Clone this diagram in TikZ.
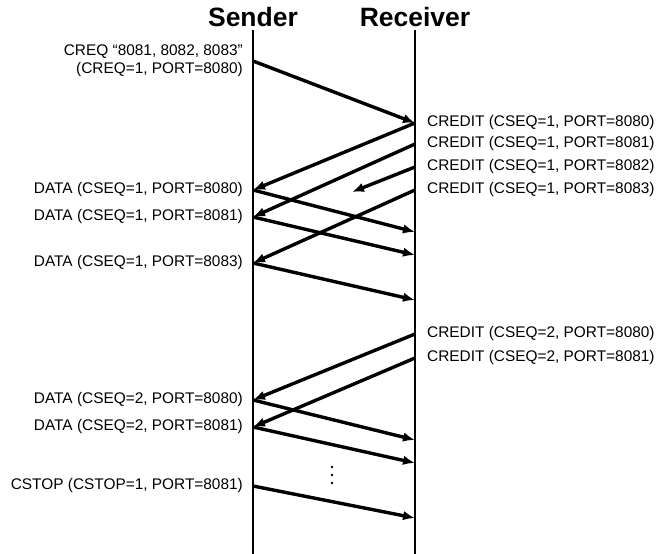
\documentclass[tikz,border=0pt]{standalone}
\usepackage{fontspec}
\setmainfont{Liberation Sans}
\usetikzlibrary{arrows.meta,positioning}

\tikzset{
  life/.style={line width=2bp},
  msg/.style={line width=3.4bp, -{Latex[length=12bp,width=9.5bp]}},
  lbl/.style={inner sep=0pt, font=\fontsize{15.4bp}{18bp}\selectfont},
  ttl/.style={inner sep=0pt, anchor=base, font=\fontsize{26.5bp}{30bp}\selectfont\bfseries}
}

\begin{document}
\begin{tikzpicture}[x=1bp, y=-1bp]
  \useasboundingbox (0,0) rectangle (658,554);
  % Lifelines
  \node[ttl] (sender) at (253,27) {Sender};
  \node[ttl] (receiver) at (415,27) {Receiver};
  \coordinate (stop) at (253,30);  \coordinate (sbot) at (253,554);
  \coordinate (rtop) at (415,30);  \coordinate (rbot) at (415,554);
  \draw[life] (stop) -- (sbot);
  \draw[life] (rtop) -- (rbot);

  % Points on the sender side
  \coordinate (s0) at (253,61);
  \coordinate (s1) at (253,190);
  \coordinate (s2) at (253,217);
  \coordinate (s3) at (253,263);
  \coordinate (s4) at (253,400);
  \coordinate (s5) at (253,427);
  \coordinate (s6) at (253,486);
  % Points on the receiver side
  \coordinate (r0) at (415,123);
  \coordinate (r1) at (415,144);
  \coordinate (r2) at (415,167);
  \coordinate (r3) at (415,190);
  \coordinate (d1) at (415,232);
  \coordinate (d2) at (415,255);
  \coordinate (d3) at (415,300);
  \coordinate (r4) at (415,334);
  \coordinate (r5) at (415,358);
  \coordinate (d4) at (415,440);
  \coordinate (d5) at (415,463);
  \coordinate (d6) at (415,518);
  \coordinate (lost) at (352,192);

  % Request
  \draw[msg] (s0) -- (r0);
  \node[lbl, align=right, left=10bp of s0] (creq) {CREQ “8081, 8082, 8083”\\(CREQ=1, PORT=8080)};

  % First credits
  \draw[msg] (r0) -- (s1);
  \draw[msg] (r1) -- (s2);
  \draw[msg] (r2) -- (lost);
  \draw[msg] (r3) -- (s3);
  \node[lbl, right=12bp of r0] (c10) {CREDIT (CSEQ=1, PORT=8080)};
  \node[lbl, right=12bp of r1] (c11) {CREDIT (CSEQ=1, PORT=8081)};
  \node[lbl, right=12bp of r2] (c12) {CREDIT (CSEQ=1, PORT=8082)};
  \node[lbl, right=12bp of r3] (c13) {CREDIT (CSEQ=1, PORT=8083)};

  % First data
  \draw[msg] (s1) -- (d1);
  \draw[msg] (s2) -- (d2);
  \draw[msg] (s3) -- (d3);
  \node[lbl, left=10bp of s1] (t10) {DATA (CSEQ=1, PORT=8080)};
  \node[lbl, left=10bp of s2] (t11) {DATA (CSEQ=1, PORT=8081)};
  \node[lbl, left=10bp of s3] (t13) {DATA (CSEQ=1, PORT=8083)};

  % Second credits
  \draw[msg] (r4) -- (s4);
  \draw[msg] (r5) -- (s5);
  \node[lbl, right=12bp of r4] (c20) {CREDIT (CSEQ=2, PORT=8080)};
  \node[lbl, right=12bp of r5] (c21) {CREDIT (CSEQ=2, PORT=8081)};

  % Second data
  \draw[msg] (s4) -- (d4);
  \draw[msg] (s5) -- (d5);
  \node[lbl, left=10bp of s4] (t20) {DATA (CSEQ=2, PORT=8080)};
  \node[lbl, left=10bp of s5] (t21) {DATA (CSEQ=2, PORT=8081)};

  % Stop
  \node (dots) at (332,475) {};
  \foreach \dy in {-8,0,8}
    \fill ([yshift=\dy bp]dots.center) circle (1.3bp);
  \draw[msg] (s6) -- (d6);
  \node[lbl, left=10bp of s6] (cstop) {CSTOP (CSTOP=1, PORT=8081)};
\end{tikzpicture}
\end{document}
